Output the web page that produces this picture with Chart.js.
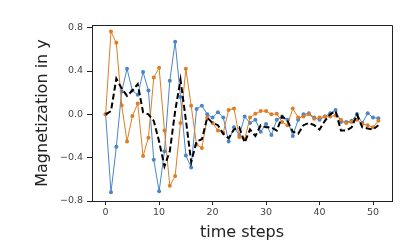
<!DOCTYPE html>
<html>
<head>
<meta charset="utf-8">
<script src="https://cdn.jsdelivr.net/npm/chart.js@4.4.0/dist/chart.umd.min.js"></script>
<style>html,body{margin:0;padding:0;background:#fff;}canvas{display:block;}</style>
</head>
<body>
<canvas id="c" width="415" height="249"></canvas>
<script>
const steps = Array.from({length: 52}, (_, i) => i);
const blueY = [0.0,-0.72,-0.30,0.21,0.42,0.22,0.18,0.39,0.22,-0.42,-0.71,-0.34,0.31,0.67,0.16,-0.38,-0.49,0.05,0.08,0.0,
  -0.03,0.02,-0.03,-0.25,-0.12,-0.19,-0.02,-0.08,-0.05,-0.16,-0.09,-0.19,-0.05,-0.02,-0.05,-0.20,-0.05,0.0,0.01,-0.03,
  -0.05,-0.02,0.01,0.04,-0.07,-0.07,-0.06,0.0,-0.08,0.01,-0.03,-0.035];
const orangeY = [0.0,0.765,0.66,0.085,-0.25,-0.015,0.10,-0.385,-0.215,0.34,0.43,-0.15,-0.66,-0.57,-0.08,0.42,0.08,-0.28,-0.31,-0.03,
  -0.08,-0.15,-0.17,0.04,0.055,-0.21,-0.23,-0.03,0.005,0.03,0.03,0.0,0.005,-0.07,-0.10,0.055,-0.03,-0.02,0.0,-0.04,
  -0.03,-0.02,-0.02,-0.01,-0.05,-0.08,-0.07,-0.05,-0.09,-0.10,-0.12,-0.06];
const dashedY = [0.0,0.03,0.33,0.24,0.17,0.22,0.28,0.02,0.0,-0.06,-0.25,-0.48,-0.34,0.03,0.32,-0.05,-0.44,-0.25,-0.23,-0.03,
  -0.08,-0.10,-0.18,-0.22,-0.14,-0.12,-0.26,-0.14,-0.20,-0.10,-0.12,-0.12,-0.15,-0.02,-0.06,-0.16,-0.18,-0.10,-0.08,-0.10,
  -0.14,-0.06,0.0,0.03,-0.15,-0.15,-0.12,0.0,-0.12,-0.13,-0.14,-0.10];
const xTicks = [0,10,20,30,40,50];
const yTicks = [-0.8,-0.4,0.0,0.4,0.8];
const xLabel = 'time steps';
const yLabel = 'Magnetization in y';

const pts = arr => steps.map((s, i) => ({x: s, y: arr[i]}));

const frame = {
  id: 'frame',
  afterDatasetsDraw(chart) {
    const {ctx, chartArea: a} = chart;
    ctx.save();
    ctx.strokeStyle = '#222';
    ctx.lineWidth = 1;
    ctx.beginPath();
    ctx.moveTo(a.left, a.top + 0.5);
    ctx.lineTo(a.right + 0.5, a.top + 0.5);
    ctx.lineTo(a.right + 0.5, a.bottom);
    ctx.stroke();
    ctx.restore();
  }
};

new Chart(document.getElementById('c'), {
  type: 'line',
  data: {
    datasets: [
      {label: 'A', data: pts(blueY), borderColor: '#4a85c9', backgroundColor: '#4a85c9', borderWidth: 1,
       pointRadius: 2, pointBorderWidth: 0, tension: 0, order: 3},
      {label: 'B', data: pts(orangeY), borderColor: '#e07d22', backgroundColor: '#e07d22', borderWidth: 1,
       pointRadius: 2, pointBorderWidth: 0, tension: 0, order: 2},
      {label: 'C', data: pts(dashedY), borderColor: '#000', borderWidth: 2, borderDash: [6, 3],
       pointRadius: 0, tension: 0, order: 1}
    ]
  },
  options: {
    responsive: false,
    animation: false,
    devicePixelRatio: 1,
    layout: {padding: {left: 0, top: 25, right: 23, bottom: 0}},
    plugins: {legend: {display: false}, tooltip: {enabled: false}},
    scales: {
      x: {
        type: 'linear', min: -2.55, max: 53.55,
        afterBuildTicks: s => { s.ticks = xTicks.map(v => ({value: v})); },
        afterFit: s => { s.height = 48; },
        grid: {drawOnChartArea: false, drawTicks: true, tickLength: 4, color: '#222'},
        border: {display: true, color: '#222', width: 1},
        ticks: {color: '#444', font: {family: 'DejaVu Sans', size: 9.5}, padding: 2, maxRotation: 0,
                callback: v => String(v)},
        title: {display: true, text: xLabel, color: '#222', font: {family: 'DejaVu Sans', size: 16},
                padding: {top: 0, bottom: 7}}
      },
      y: {
        type: 'linear', min: -0.80, max: 0.825,
        afterBuildTicks: s => { s.ticks = yTicks.map(v => ({value: v})); },
        afterFit: s => { s.width = 92; },
        grid: {drawOnChartArea: false, drawTicks: true, tickLength: 5, color: '#222'},
        border: {display: true, color: '#222', width: 1},
        ticks: {color: '#444', font: {family: 'DejaVu Sans', size: 9.5}, padding: 4,
                callback: v => (v < 0 ? '\u2212' : '') + Math.abs(v).toFixed(1)},
        title: {display: true, text: yLabel, color: '#222', font: {family: 'DejaVu Sans', size: 16},
                padding: {top: 33, bottom: 0}}
      }
    }
  },
  plugins: [frame]
});
</script>
</body>
</html>
